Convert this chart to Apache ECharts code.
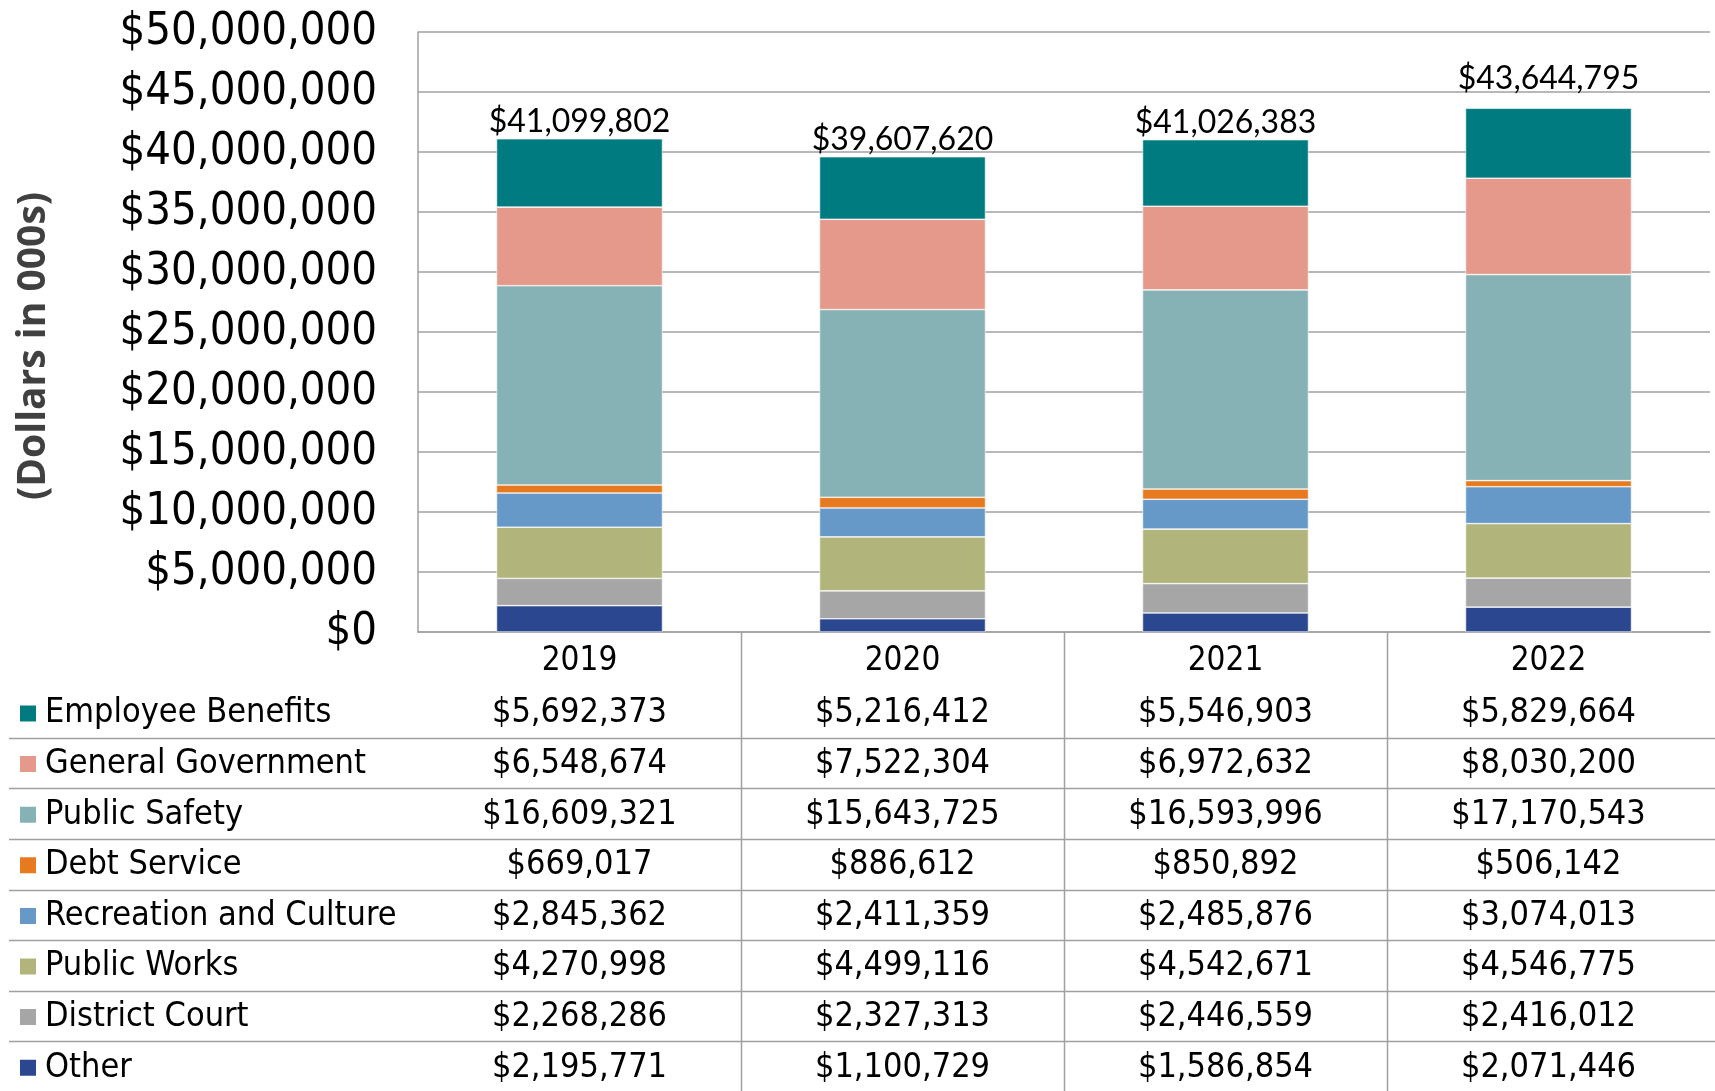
<!DOCTYPE html>
<html>
<head>
<meta charset="utf-8">
<title>Expenditures by Function</title>
<script src="https://cdn.jsdelivr.net/npm/echarts@6/dist/echarts.min.js"></script>
<style>
  html, body { margin: 0; padding: 0; background: #fff; }
  #chart { width: 1715px; height: 1091px; }
</style>
</head>
<body>
<div id="chart"></div>
<script>
const years = ['2019', '2020', '2021', '2022']
const employeeBenefits = [5692373, 5216412, 5546903, 5829664]
const generalGovernment = [6548674, 7522304, 6972632, 8030200]
const publicSafety = [16609321, 15643725, 16593996, 17170543]
const debtService = [669017, 886612, 850892, 506142]
const recreationCulture = [2845362, 2411359, 2485876, 3074013]
const publicWorks = [4270998, 4499116, 4542671, 4546775]
const districtCourt = [2268286, 2327313, 2446559, 2416012]
const other = [2195771, 1100729, 1586854, 2071446]
const totals = [41099802, 39607620, 41026383, 43644795]
const yTicks = [0, 50000000, 5000000] // min, max, interval

// table rows, top to bottom (the stack is drawn bottom to top)
const rows = [
  { name: 'Employee Benefits', values: employeeBenefits, color: '#007C80' },
  { name: 'General Government', values: generalGovernment, color: '#E4998A' },
  { name: 'Public Safety', values: publicSafety, color: '#86B1B5' },
  { name: 'Debt Service', values: debtService, color: '#E77A1E' },
  { name: 'Recreation and Culture', values: recreationCulture, color: '#6699C8' },
  { name: 'Public Works', values: publicWorks, color: '#B1B57B' },
  { name: 'District Court', values: districtCourt, color: '#A6A6A6' },
  { name: 'Other', values: other, color: '#2B478F' },
]

const W = 1715, H = 1091
const gridLeft = 418, gridRight = 5, gridTop = 32, axisY = 632
const rowH = 50.6
const headH = 54.2
const valueRow0 = 712.5 // centre of first table row
const legendLine = 40
const tableFont = "'DejaVu Sans Condensed', 'DejaVu Sans', sans-serif"
const lineColor = '#A0A0A0'

const money = v => '$' + Number(v).toLocaleString('en-US')

const chart = echarts.init(document.getElementById('chart'))

// table lines: row separators and column separators below the axis
const lines = []
for (let k = 1; k < rows.length; k++) {
  const y = Math.round(valueRow0 + (k - 0.5) * rowH) + 0.5
  lines.push({ type: 'line', shape: { x1: 9, y1: y, x2: W, y2: y }, style: { stroke: lineColor, lineWidth: 1.5 }, silent: true })
}
const cellW = (W - gridLeft - gridRight) / years.length
for (let k = 1; k < years.length; k++) {
  const x = Math.round(gridLeft + k * cellW) + 0.5
  lines.push({ type: 'line', shape: { x1: x, y1: axisY, x2: x, y2: H }, style: { stroke: lineColor, lineWidth: 1.5 }, silent: true })
}

const series = rows.slice().reverse().map((r, i, arr) => {
  const isTop = i === arr.length - 1
  return {
    name: r.name,
    type: 'bar',
    stack: 'total',
    barWidth: '51.4%',
    itemStyle: { color: r.color, borderColor: '#fff', borderWidth: 0.6 },
    data: r.values.map((v, j) => {
      if (isTop && j === 3) return { value: v, label: { offset: [0, -13] } }
      return v
    }),
    label: isTop ? {
      show: true,
      position: 'top',
      distance: 1,
      color: '#000',
      fontFamily: 'Lato, sans-serif',
      fontSize: 32,
      formatter: p => money(totals[p.dataIndex]),
    } : { show: false },
  }
})

const option = {
  animation: false,
  backgroundColor: '#fff',
  grid: { left: gridLeft, right: gridRight, top: gridTop, bottom: H - axisY, containLabel: false },
  legend: {
    orient: 'vertical',
    left: 18,
    top: valueRow0 - legendLine / 2 + 1,
    padding: 0,
    itemGap: rowH - legendLine,
    itemWidth: 18,
    itemHeight: 18,
    icon: 'rect',
    selectedMode: false,
    data: rows.map(r => r.name),
    textStyle: { color: '#000', fontFamily: tableFont, fontSize: 34, lineHeight: legendLine, padding: [0, 0, 0, 3] },
  },
  xAxis: {
    type: 'category',
    data: years,
    axisLine: { show: true, lineStyle: { color: lineColor, width: 1.5 } },
    axisTick: { show: false },
    axisLabel: {
      interval: 0,
      margin: 2,
      color: '#000',
      fontFamily: tableFont,
      fontSize: 34,
      formatter: (val, idx) => ['{y|' + val + '}'].concat(rows.map(r => '{v|' + money(r.values[idx]) + '}')).join('\n'),
      rich: {
        y: { fontFamily: tableFont, fontSize: 33, lineHeight: headH, color: '#000' },
        v: { fontFamily: tableFont, fontSize: 34, lineHeight: rowH, color: '#000' },
      },
    },
  },
  yAxis: {
    type: 'value',
    min: yTicks[0],
    max: yTicks[1],
    interval: yTicks[2],
    axisLine: { show: true, lineStyle: { color: lineColor, width: 1.5 } },
    axisTick: { show: false },
    splitLine: { lineStyle: { color: lineColor, width: 1.5 } },
    axisLabel: { margin: 41, color: '#000', fontFamily: tableFont, fontSize: 45, formatter: v => money(v) },
  },
  graphic: lines.concat([
    {
      type: 'text',
      x: 34,
      y: 346,
      rotation: Math.PI / 2,
      silent: true,
      style: {
        text: '(Dollars in 000s)',
        fill: '#404040',
        font: "bold 39px 'Open Sans', sans-serif",
        textAlign: 'center',
        textVerticalAlign: 'middle',
      },
    },
  ]),
  series,
}

chart.setOption(option)
window.addEventListener('resize', () => chart.resize())
</script>
</body>
</html>
